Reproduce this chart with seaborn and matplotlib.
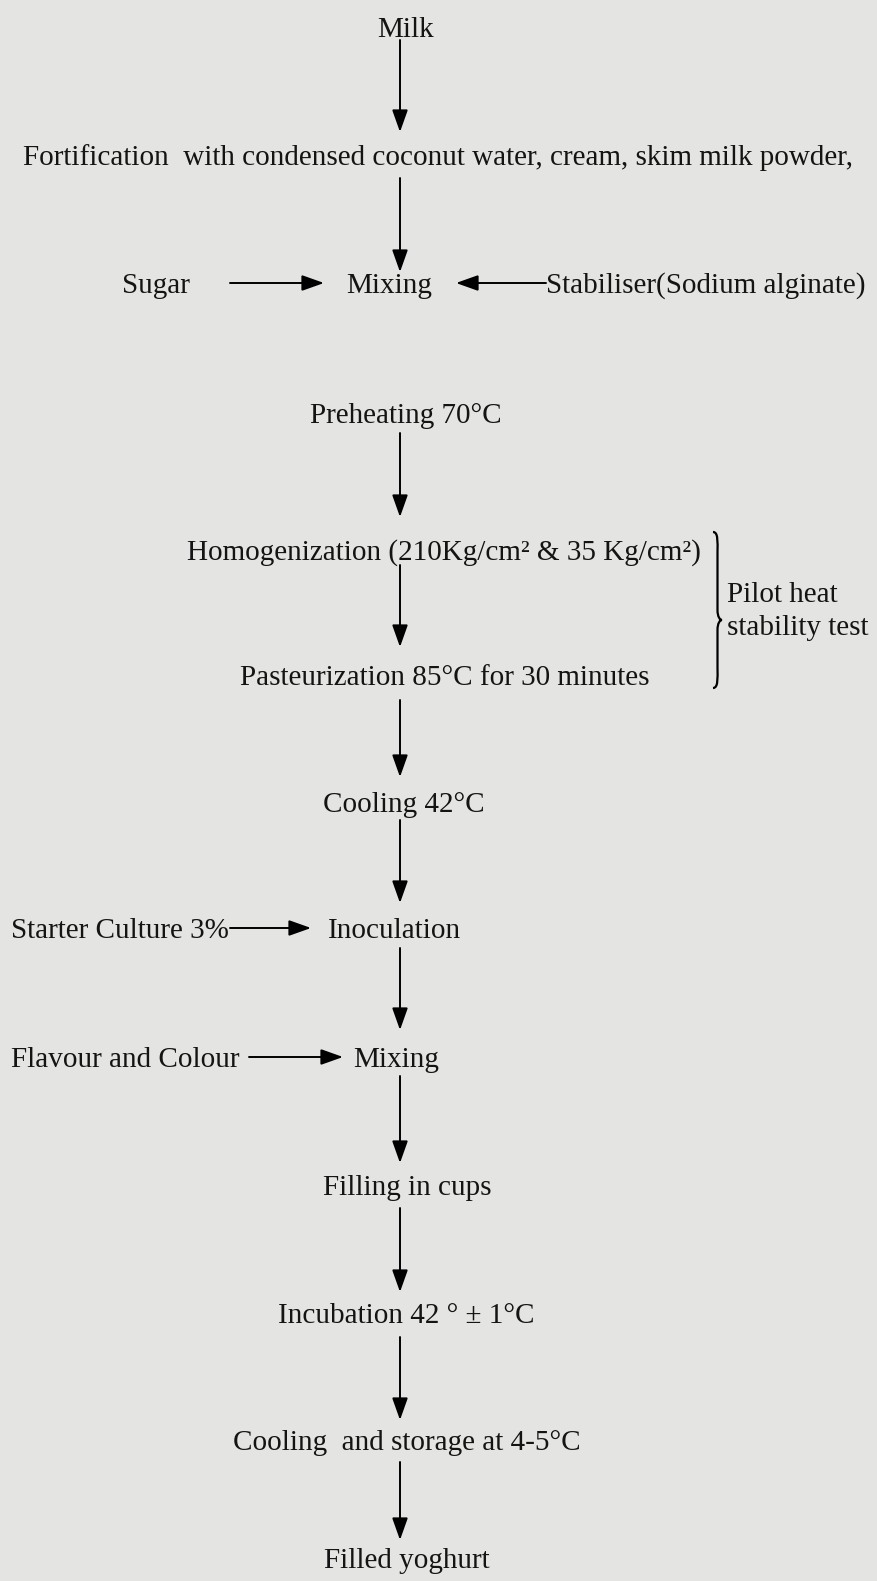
import matplotlib
matplotlib.use("Agg")
import matplotlib.pyplot as plt
import seaborn as sns
from matplotlib.path import Path
from matplotlib.patches import PathPatch

# main flow steps (text, centre x, y in pixel space of the page)
steps = ["Milk",
         "Fortification  with condensed coconut water, cream, skim milk powder,",
         "Mixing",
         "Preheating 70°C",
         "Homogenization (210Kg/cm² & 35 Kg/cm²)",
         "Pasteurization 85°C for 30 minutes",
         "Cooling 42°C",
         "Inoculation",
         "Mixing",
         "Filling in cups",
         "Incubation 42 ° ± 1°C",
         "Cooling  and storage at 4-5°C",
         "Filled yoghurt"]
step_x = [406, 438, 389, 406, 444, 445, 404, 396, 396, 407, 406, 407, 407]
step_y = [27, 155, 283, 413, 550, 675, 802, 928, 1057, 1185, 1313, 1440, 1558]

# vertical arrows (start y, tip y), all on the centre line
arrow_x = 400
arrow_y0 = [40, 178, 433, 565, 700, 820, 948, 1076, 1208, 1337, 1462]
arrow_y1 = [132, 272, 517, 647, 777, 903, 1030, 1163, 1292, 1420, 1540]

# side inputs: label, label x, ha, y, arrow start x, arrow tip x
side_labels = ["Sugar", "Stabiliser(Sodium alginate)", "Starter Culture 3%", "Flavour and Colour"]
side_x = [156, 546, 11, 11]
side_ha = ["center", "left", "left", "left"]
side_y = [283, 283, 928, 1057]
side_from = [230, 546, 230, 249]
side_to = [324, 456, 311, 343]

# brace around homogenization / pasteurization
brace_x = 713
brace_w = 9
brace_top = 532
brace_bottom = 688
brace_tip = 620
brace_text = ["Pilot heat", "stability test"]
brace_text_y = [595, 628]

W, H = 878, 1581
sns.set_theme(style="white")
plt.rcParams['font.family'] = ['Liberation Serif', 'DejaVu Serif']

bg = "#e4e4e2"
fig = plt.figure(figsize=(W / 100, H / 100), dpi=100, facecolor=bg)
ax = fig.add_axes([0, 0, 1, 1])
ax.set_facecolor(bg)
ax.set_xlim(0, W)
ax.set_ylim(H, 0)
ax.axis("off")

fs = 21
tc = "#141414"
dy = 3  # va='center' counts descenders, push text down a little

for s, x, y in zip(steps, step_x, step_y):
    if s == "Inoculation":
        ax.text(328, y + dy, s, ha="left", va="center", fontsize=fs, color=tc)
    else:
        ax.text(x, y + dy, s, ha="center", va="center", fontsize=fs, color=tc)

aprops = dict(arrowstyle="-|>,head_length=0.45,head_width=0.16", color="black",
              lw=1.4, mutation_scale=30, shrinkA=0, shrinkB=0)
for y0, y1 in zip(arrow_y0, arrow_y1):
    ax.annotate("", xy=(arrow_x, y1), xytext=(arrow_x, y0), arrowprops=aprops)

for lab, x, ha, y, x0, x1 in zip(side_labels, side_x, side_ha, side_y, side_from, side_to):
    ax.text(x, y + dy, lab, ha=ha, va="center", fontsize=fs, color=tc)
    ax.annotate("", xy=(x1, y), xytext=(x0, y), arrowprops=aprops)

# curly brace
b0, b1, t = brace_top, brace_bottom, brace_tip
xl, xr = brace_x, brace_x + brace_w
xm = xl + brace_w * 0.5
verts = [(xl, b0), (xl + brace_w * 0.6, b0), (xm, b0 + 10), (xm, b0 + 20),
         (xm, t - 10),
         (xm, t - 3), (xr - 2, t), (xr, t),
         (xr - 2, t), (xm, t + 3), (xm, t + 10),
         (xm, b1 - 20),
         (xm, b1 - 10), (xl + brace_w * 0.6, b1), (xl, b1)]
codes = [Path.MOVETO, Path.CURVE4, Path.CURVE4, Path.CURVE4,
         Path.LINETO,
         Path.CURVE4, Path.CURVE4, Path.CURVE4,
         Path.CURVE4, Path.CURVE4, Path.CURVE4,
         Path.LINETO,
         Path.CURVE4, Path.CURVE4, Path.CURVE4]
ax.add_patch(PathPatch(Path(verts, codes), fill=False, lw=1.6, color="black"))
for s, y in zip(brace_text, brace_text_y):
    ax.text(727, y, s, ha="left", va="center", fontsize=fs, color=tc)

fig.savefig("out.png", dpi=100, facecolor=bg)
